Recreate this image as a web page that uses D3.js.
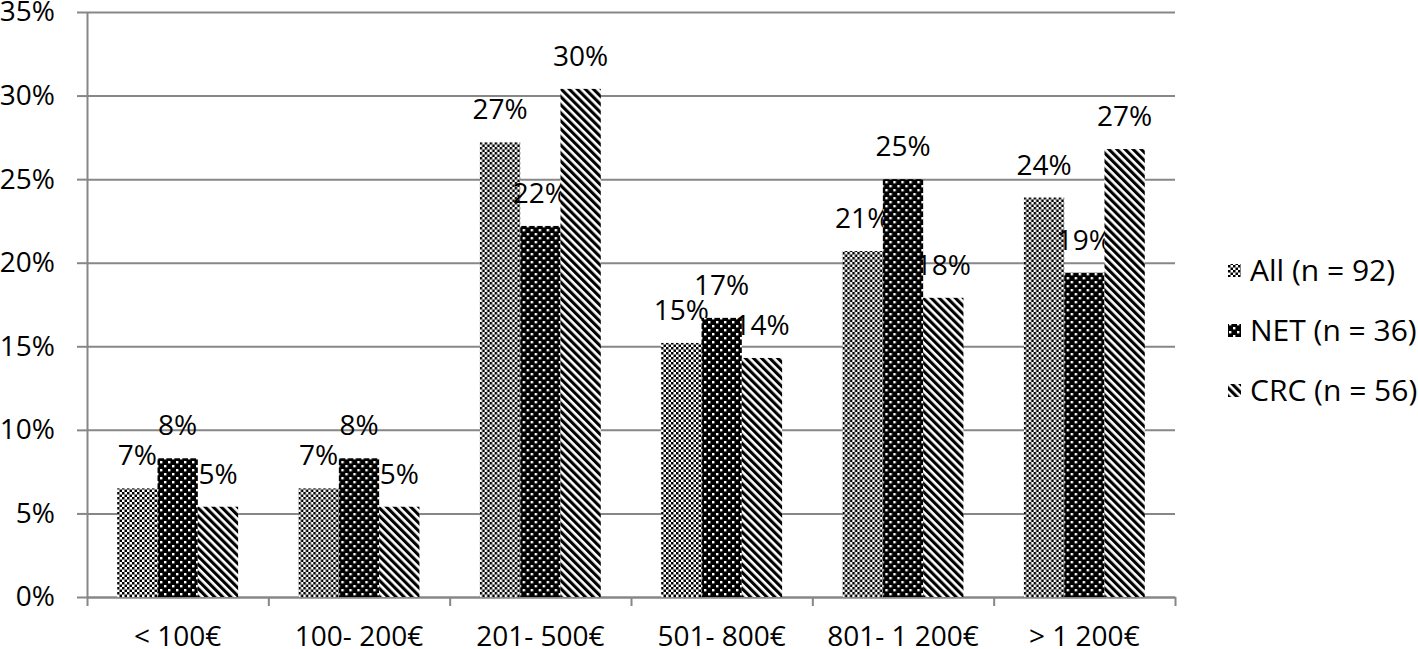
<!DOCTYPE html>
<html>
<head>
<meta charset="utf-8">
<script src="https://cdn.jsdelivr.net/npm/d3@7"></script>
<style>
  body { margin: 0; background: #fff; }
  text { font-family: 'Open Sans', sans-serif; font-size: 28px; fill: #000; }
  #legend text { font-size: 30px; }
</style>
</head>
<body>
<div id="root"></div>
<script>
const categories = ['< 100€', '100- 200€', '201- 500€', '501- 800€', '801- 1 200€', '> 1 200€'];
const seriesNames = ['All (n = 92)', 'NET (n = 36)', 'CRC (n = 56)'];
const allValues = [6.5, 6.5, 27.2, 15.2, 20.7, 23.9];
const netValues = [8.3, 8.3, 22.2, 16.7, 25.0, 19.4];
const crcValues = [5.4, 5.4, 30.4, 14.3, 17.9, 26.8];
const yTicks = [0, 5, 10, 15, 20, 25, 30, 35];

const seriesValues = [allValues, netValues, crcValues];
const patternIds = ['pat-all', 'pat-net', 'pat-crc'];

const svgWidth = 1418;
const svgHeight = 649;
const margin = { top: 12, right: 243, bottom: 52, left: 87 };
const chartWidth = svgWidth - margin.left - margin.right;
const chartHeight = svgHeight - margin.top - margin.bottom;
const gridColor = '#878787';

const xScale = d3.scaleBand()
  .domain(categories)
  .range([0, chartWidth]);

const xInner = d3.scaleBand()
  .domain(seriesNames)
  .range([0, xScale.bandwidth()])
  .paddingOuter(0.75);

const yScale = d3.scaleLinear()
  .domain([0, 35])
  .range([chartHeight, 0]);

const svg = d3.select('#root').append('svg')
  .attr('width', svgWidth)
  .attr('height', svgHeight);

// fill patterns
const defs = svg.append('defs');

const checker = defs.append('pattern')
  .attr('id', 'pat-all')
  .attr('patternUnits', 'userSpaceOnUse')
  .attr('width', 5)
  .attr('height', 5);
checker.append('rect').attr('width', 5).attr('height', 5).attr('fill', '#fff');
checker.append('rect').attr('width', 2.5).attr('height', 2.5).attr('fill', '#000');
checker.append('rect').attr('x', 2.5).attr('y', 2.5).attr('width', 2.5).attr('height', 2.5).attr('fill', '#000');

const dots = defs.append('pattern')
  .attr('id', 'pat-net')
  .attr('patternUnits', 'userSpaceOnUse')
  .attr('width', 8)
  .attr('height', 8);
dots.append('rect').attr('width', 8).attr('height', 8).attr('fill', '#000');
dots.append('rect').attr('x', 1).attr('y', 1).attr('width', 2.4).attr('height', 2.4).attr('fill', '#fff');
dots.append('rect').attr('x', 5).attr('y', 5).attr('width', 2.4).attr('height', 2.4).attr('fill', '#fff');

const stripes = defs.append('pattern')
  .attr('id', 'pat-crc')
  .attr('patternUnits', 'userSpaceOnUse')
  .attr('width', 5.7)
  .attr('height', 5.7)
  .attr('patternTransform', 'rotate(-45)');
stripes.append('rect').attr('width', 5.7).attr('height', 5.7).attr('fill', '#fff');
stripes.append('rect').attr('width', 3.1).attr('height', 5.7).attr('fill', '#000');

const chart = svg.append('g')
  .attr('transform', `translate(${margin.left}, ${margin.top})`);

// horizontal gridlines
chart.append('g')
  .attr('class', 'grid')
  .call(d3.axisLeft(yScale).tickValues(yTicks).tickSize(-chartWidth).tickFormat(''))
  .call(g => g.select('.domain').remove())
  .call(g => g.selectAll('line').attr('stroke', gridColor).attr('stroke-width', 2));

// y axis with labels
chart.append('g')
  .attr('id', 'y-axis')
  .call(d3.axisLeft(yScale).tickValues(yTicks).tickSize(10).tickSizeOuter(0).tickPadding(22).tickFormat(d => d + '%'))
  .call(g => g.select('.domain').attr('stroke', gridColor).attr('stroke-width', 2))
  .call(g => g.selectAll('line').attr('stroke', gridColor).attr('stroke-width', 2))
  .call(g => g.selectAll('text').attr('font-size', null).attr('font-family', null));

// x axis tick marks at category boundaries
const xEdges = d3.scaleLinear().domain([0, categories.length]).range([0, chartWidth]);
chart.append('g')
  .attr('transform', `translate(0, ${chartHeight})`)
  .call(d3.axisBottom(xEdges).tickValues(d3.range(categories.length + 1)).tickSize(9).tickSizeOuter(0).tickFormat(''))
  .call(g => g.select('.domain').attr('stroke', gridColor).attr('stroke-width', 2))
  .call(g => g.selectAll('line').attr('stroke', gridColor).attr('stroke-width', 2));

// x axis labels
chart.append('g')
  .attr('id', 'x-axis')
  .attr('transform', `translate(0, ${chartHeight})`)
  .call(d3.axisBottom(xScale).tickSize(0).tickPadding(29))
  .call(g => g.select('.domain').remove())
  .call(g => g.selectAll('text').attr('font-size', null).attr('font-family', null));

// bars
const groups = chart.selectAll('.group')
  .data(categories)
  .enter()
  .append('g')
  .attr('class', 'group')
  .attr('transform', d => `translate(${xScale(d)}, 0)`);

const cells = groups.selectAll('.cell')
  .data((c, ci) => seriesNames.map((s, si) => ({ series: s, si, value: seriesValues[si][ci] })))
  .enter()
  .append('g')
  .attr('class', 'cell');

cells.append('rect')
  .attr('x', d => xInner(d.series))
  .attr('y', d => yScale(d.value))
  .attr('width', xInner.bandwidth())
  .attr('height', d => chartHeight - yScale(d.value))
  .attr('fill', d => `url(#${patternIds[d.si]})`);

cells.append('text')
  .attr('x', d => xInner(d.series) + xInner.bandwidth() / 2)
  .attr('y', d => yScale(d.value) - 23)
  .attr('text-anchor', 'middle')
  .text(d => Math.round(d.value) + '%');

// legend
const legend = svg.append('g')
  .attr('id', 'legend')
  .attr('transform', 'translate(1228, 270)');

const legendItems = legend.selectAll('g')
  .data(seriesNames)
  .enter()
  .append('g')
  .attr('transform', (d, i) => `translate(0, ${i * 60})`);

legendItems.append('rect')
  .attr('x', 0)
  .attr('y', -6)
  .attr('width', 13)
  .attr('height', 13)
  .attr('fill', (d, i) => `url(#${patternIds[i]})`);

legendItems.append('text')
  .attr('x', 22)
  .attr('y', 0)
  .attr('dy', '0.35em')
  .text(d => d);
</script>
</body>
</html>
